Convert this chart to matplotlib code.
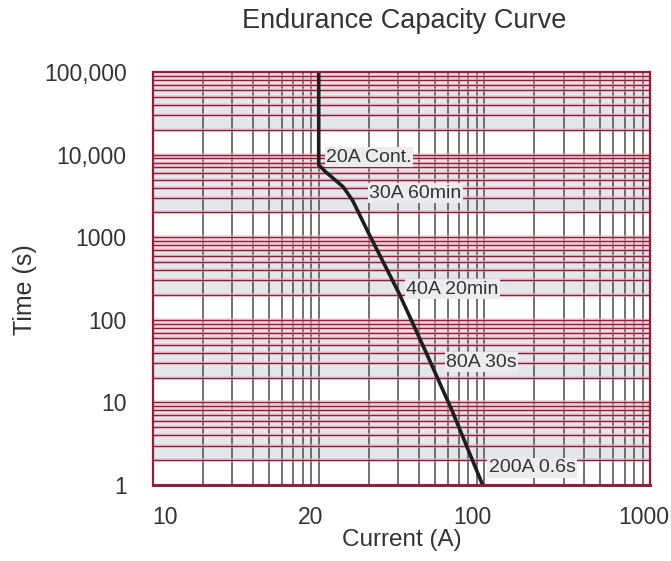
import numpy as np
import matplotlib
matplotlib.use('Agg')
import matplotlib.pyplot as plt
from matplotlib.ticker import LogLocator, NullFormatter, NullLocator

plt.rcParams['font.family'] = ['Liberation Sans', 'DejaVu Sans']

# curve (current in A, time in s)
current = [20, 20, 22, 28, 32, 40, 61, 89, 127, 195]
time_s = [100000, 7500, 6200, 4100, 2800, 1120, 210, 40, 8.1, 1.0]

# point labels
pt_labels = ['20A Cont.', '30A 60min', '40A 20min', '80A 30s', '200A 0.6s']
pt_xy = [(22.2, 9300), (40.4, 3430), (67.4, 236), (117, 30.8), (212, 1.61)]

# x tick labels as printed on the chart (positions as they sit on the grid)
xtick_pos = [2.36, 17.8, 168, 1817]
xtick_txt = ['10', '20', '100', '1000']
ytick_pos = [1, 10, 100, 1000, 10000, 100000]
ytick_txt = ['1', '10', '100', '1000', '10,000', '100,000']

red = '#8c2237'
gridgray = '#4a4a4a'

fig = plt.figure(figsize=(6.71, 5.61), dpi=100)
ax = fig.add_axes([0.228, 0.1355, 0.741, 0.736])
ax.set_xscale('log')
ax.set_yscale('log')
ax.set_xlim(2, 2000)
ax.set_ylim(1, 100000)

# shaded bands in every decade
for d in [1, 10, 100, 1000, 10000]:
    ax.axhspan(2 * d, 7 * d, color='#e3e6eb', lw=0, zorder=0)
    ax.axhspan(7 * d, 10 * d, color='#f3e6ec', lw=0, zorder=0)

# grid: vertical dark lines at 2,4,...,18 x 10^n, horizontal red lines at 1..9 x 10^n
xg = LogLocator(base=10, subs=np.arange(2, 20, 2), numticks=50).tick_values(2, 2000)
yg = LogLocator(base=10, subs=np.arange(1, 10), numticks=50).tick_values(1, 100000)
for v in xg:
    if 2 < v < 2000:
        ax.axvline(v, color=gridgray, lw=1.1, zorder=1)
for v in yg:
    if 1 < v < 100000:
        ax.axhline(v, color='#f2b8c8', lw=2.6, alpha=0.6, zorder=1)
        ax.axhline(v, color=red, lw=1.0, zorder=1.1)

ax.plot(current, time_s, color='#1e1e1e', lw=2.6, zorder=3, solid_joinstyle='round')

for txt, (x, y) in zip(pt_labels, pt_xy):
    ax.text(x, y, txt, ha='left', va='center', fontsize=14, color='#333333',
            zorder=4, bbox=dict(facecolor='#ececef', edgecolor='none', pad=1.0))

ax.xaxis.set_minor_locator(NullLocator())
ax.yaxis.set_minor_locator(NullLocator())
ax.xaxis.set_minor_formatter(NullFormatter())
ax.yaxis.set_minor_formatter(NullFormatter())
ax.set_xticks(xtick_pos, xtick_txt)
ax.set_yticks(ytick_pos, ytick_txt)
ax.tick_params(axis='both', length=0, labelsize=16.5, colors='#333333')
ax.tick_params(axis='x', pad=15)
ax.tick_params(axis='y', pad=19)

for s in ax.spines.values():
    s.set_color(red)
    s.set_linewidth(1.6)
    s.set_zorder(5)
ax.spines['bottom'].set_linewidth(2.2)

ax.set_xlabel('Current (A)', fontsize=17.5, color='#333333', labelpad=0)
ax.set_ylabel('Time (s)', fontsize=18, color='#333333')
ax.yaxis.set_label_coords(-0.233, 0.472)
fig.text(0.603, 0.963, 'Endurance Capacity Curve', ha='center', va='center',
         fontsize=19.5, color='#333333')

fig.savefig('out.png', dpi=100, facecolor='white')
